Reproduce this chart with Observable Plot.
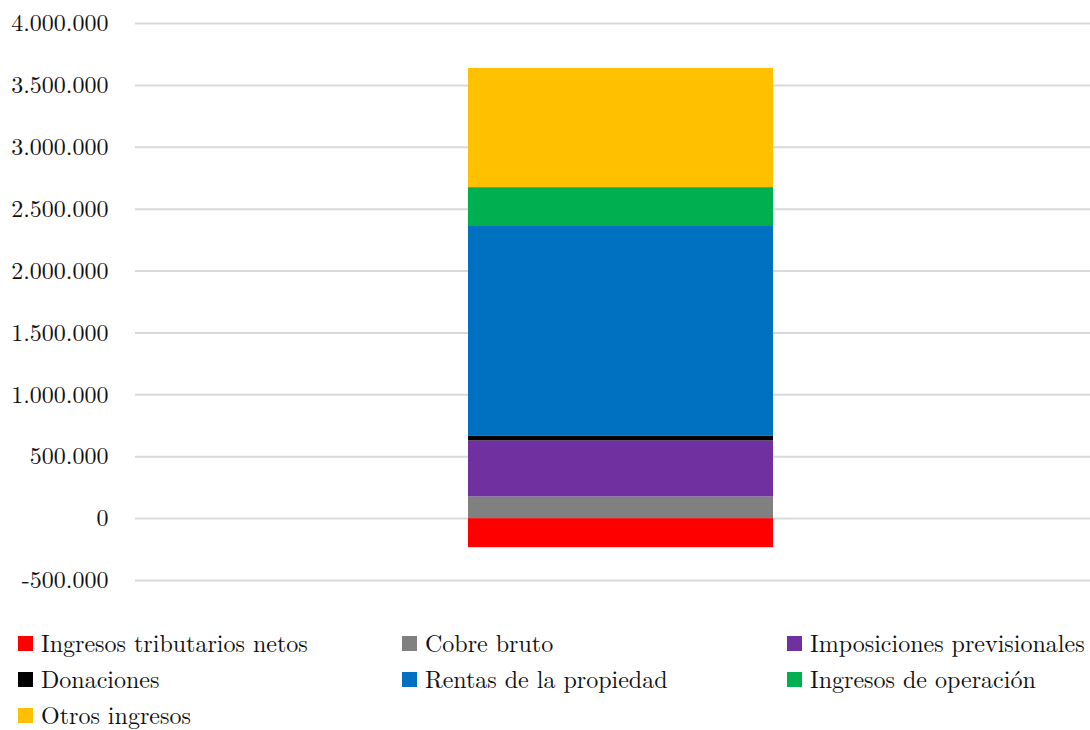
<!DOCTYPE html>
<html>
<head>
<meta charset="utf-8">
<script src="https://cdn.jsdelivr.net/npm/d3@7"></script>
<script src="https://cdn.jsdelivr.net/npm/@observablehq/plot@0.6"></script>
<style>
  html, body { margin: 0; padding: 0; background: #fff; }
  #wrap { position: relative; width: 1090px; height: 730px; overflow: hidden; }
  #legend {
    position: absolute; left: 18px; top: 624px;
    display: grid; grid-template-columns: 384px 385px 300px;
    grid-auto-rows: 36px;
    font-family: "Latin Modern Roman", "Liberation Serif", serif; font-size: 24px; color: #111;
    line-height: 1;
  }
  .item { display: flex; align-items: center; white-space: nowrap; }
  .sw { width: 15px; height: 15px; margin-right: 8px; flex: none; position: relative; top: 1px; }
</style>
</head>
<body>
<div id="wrap">
  <div id="chart"></div>
  <div id="legend"></div>
</div>
<script>
const series = [
  "Ingresos tributarios netos",
  "Cobre bruto",
  "Imposiciones previsionales",
  "Donaciones",
  "Rentas de la propiedad",
  "Ingresos de operación",
  "Otros ingresos"
];
const values = [-235000, 175000, 453000, 40000, 1699000, 307000, 963000];
const colors = ["#FF0000", "#808080", "#7030A0", "#000000", "#0070C0", "#00B050", "#FFC000"];
const yTicks = [-500000, 0, 500000, 1000000, 1500000, 2000000, 2500000, 3000000, 3500000, 4000000];
const category = "Total";

const data = series.map((s, i) => ({series: s, value: values[i], cat: category}));

const fmt = d3.formatLocale({decimal: ",", thousands: ".", grouping: [3], currency: ["", ""], minus: "-"}).format(",.0f");

const chart = Plot.plot({
  width: 1090,
  height: 600,
  marginLeft: 135,
  marginRight: 0,
  marginTop: 23,
  marginBottom: 20,
  style: {fontFamily: "'Latin Modern Roman', 'Liberation Serif', serif", fontSize: "24px", color: "#111", background: "white"},
  x: {domain: [category], range: [135, 1105], padding: 0.5215, axis: null},
  y: {domain: [-500000, 4000000], ticks: yTicks, tickFormat: fmt, tickSize: 0, tickPadding: 27, label: null},
  color: {domain: series, range: colors},
  marks: [
    Plot.ruleY(yTicks, {stroke: "#d9d9d9", strokeWidth: 2}),
    Plot.barY(data, {x: "cat", y: "value", fill: "series"})
  ]
});
document.getElementById("chart").appendChild(chart);

const legend = document.getElementById("legend");
series.forEach((s, i) => {
  const item = document.createElement("div");
  item.className = "item";
  const sw = document.createElement("span");
  sw.className = "sw";
  sw.style.background = colors[i];
  const t = document.createElement("span");
  t.textContent = s;
  item.appendChild(sw);
  item.appendChild(t);
  legend.appendChild(item);
});
</script>
</body>
</html>
